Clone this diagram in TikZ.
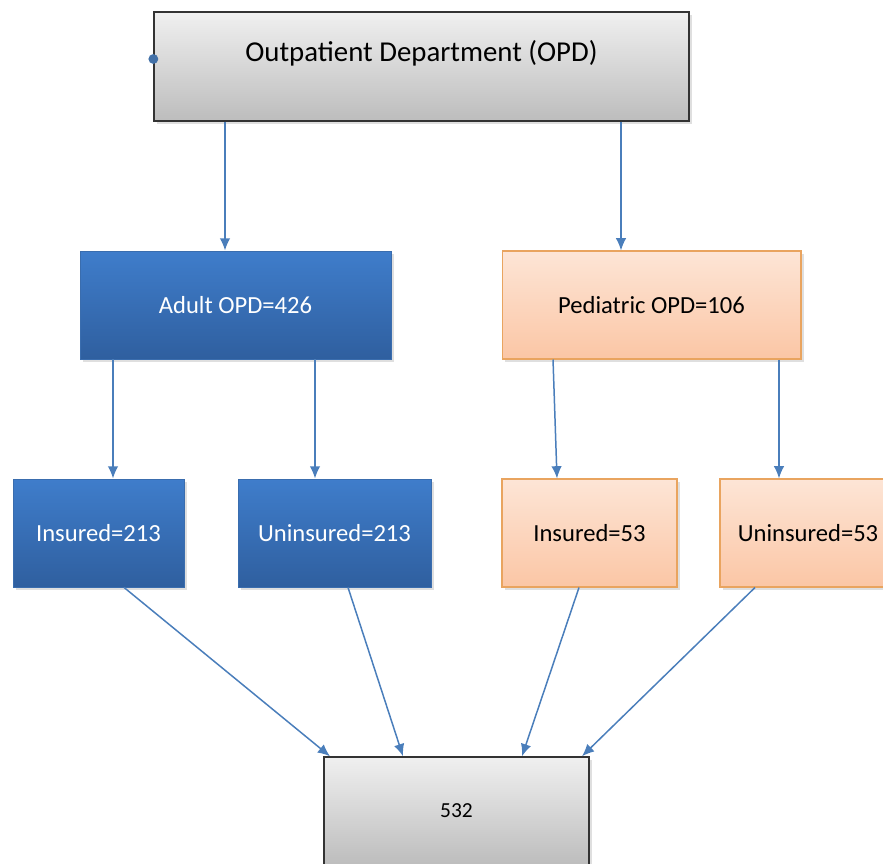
\documentclass[tikz,border=0pt]{standalone}
\usepackage{fontspec}
\setmainfont{Carlito}
\usepackage{xcolor}
\usepackage{tikz}
\usetikzlibrary{arrows.meta, shadows}

\definecolor{arrowblue}{HTML}{4A7EBB}
\definecolor{bluetop}{HTML}{3F7DCB}
\definecolor{bluebot}{HTML}{2F5F9F}
\definecolor{blueline}{HTML}{3A6DAE}
\definecolor{peachtop}{HTML}{FDE5D6}
\definecolor{peachbot}{HTML}{FBC6A5}
\definecolor{peachline}{HTML}{E9A45F}

\begin{document}
\begin{tikzpicture}[x=0.02cm, y=-0.02cm,
        box/.style={rectangle, inner sep=0pt, minimum height=2.16cm,
            drop shadow={opacity=0.25, shadow xshift=1.5pt, shadow yshift=-1.5pt},
            font=\fontsize{14}{17}\selectfont},
        graybox/.style={box, draw=black!80, line width=0.8pt, top color=black!6, bottom color=black!26},
        bluebox/.style={box, draw=blueline, line width=0.5pt, top color=bluetop, bottom color=bluebot, text=white},
        peachbox/.style={box, draw=peachline, line width=0.6pt, top color=peachtop, bottom color=peachbot},
        flow/.style={draw=arrowblue, line width=0.85pt, -{Latex[length=7pt, width=6pt]}}]
        \useasboundingbox (0,0) rectangle (883,864);

        \node[graybox, minimum width=10.7cm, minimum height=2.18cm, text depth=0.62cm,
            font=\fontsize{16.4}{19}\selectfont] (opd) at (421.5,66.5) {Outpatient Department (OPD)};
        \fill[arrowblue!90!black] (opd.west |- 0,59) circle (2.8pt);

        \node[bluebox, minimum width=6.22cm] (adult) at (235.5,305) {Adult OPD=426};
        \node[peachbox, minimum width=5.98cm] (ped) at (651.5,305) {Pediatric OPD=106};

        \node[bluebox, minimum width=3.42cm] (ains) at (98.5,533) {Insured=213};
        \node[bluebox, minimum width=3.86cm] (aunins) at (334.5,533) {Uninsured=213};
        \node[peachbox, minimum width=3.5cm] (pins) at (589.5,533) {Insured=53};
        \node[peachbox, minimum width=3.52cm] (punins) at (808,533) {Uninsured=53};

        \node[graybox, minimum width=5.3cm, font=\fontsize{12.2}{15}\selectfont] (total) at (456.5,811) {532};

        % OPD split
        \draw[flow] ([xshift=-0.21cm]adult.north |- opd.south) -- ([xshift=-0.21cm]adult.north);
        \draw[flow] ([xshift=-0.61cm]ped.north |- opd.south) -- ([xshift=-0.61cm]ped.north);

        % insurance split
        \draw[flow] ([xshift=0.29cm]ains.north |- adult.south) -- ([xshift=0.29cm]ains.north);
        \draw[flow] ([xshift=-0.39cm]aunins.north |- adult.south) -- ([xshift=-0.39cm]aunins.north);
        \draw[flow] ([xshift=-1.97cm]ped.south) -- ([xshift=-0.65cm]pins.north);
        \draw[flow] ([xshift=-0.58cm]punins.north |- ped.south) -- ([xshift=-0.58cm]punins.north);

        % totals
        \draw[flow] ([xshift=0.51cm]ains.south) -- ([xshift=-2.53cm]total.north);
        \draw[flow] ([xshift=0.27cm]aunins.south) -- ([xshift=-1.07cm]total.north);
        \draw[flow] ([xshift=-0.21cm]pins.south) -- ([xshift=1.31cm]total.north);
        \draw[flow] ([xshift=-1.06cm]punins.south) -- ([xshift=2.51cm]total.north);
\end{tikzpicture}
\end{document}
